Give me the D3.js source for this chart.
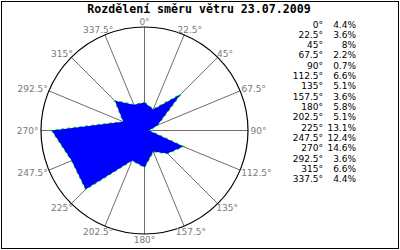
<!DOCTYPE html>
<html><head><meta charset="utf-8">
<script src="https://cdn.jsdelivr.net/npm/d3@7"></script>
<style>body{margin:0;background:#fff}svg{display:block}</style>
</head><body>
<script>
const title = "Rozdělení směru větru 23.07.2009";
const directions = [0, 22.5, 45, 67.5, 90, 112.5, 135, 157.5, 180, 202.5, 225, 247.5, 270, 292.5, 315, 337.5];
const values = [4.4, 3.6, 8, 2.2, 0.7, 6.6, 5.1, 3.6, 5.8, 5.1, 13.1, 12.4, 14.6, 3.6, 6.6, 4.4];
const valueLabels = ["4.4%", "3.6%", "8%", "2.2%", "0.7%", "6.6%", "5.1%", "3.6%", "5.8%", "5.1%", "13.1%", "12.4%", "14.6%", "3.6%", "6.6%", "4.4%"];
const radialMax = 16.3;

const W = 400, H = 250;
const cx = 144.5, cy = 130.5, R = 103.5;
const svg = d3.select("body").append("svg").attr("width", W).attr("height", H);

svg.append("rect").attr("x", 1.5).attr("y", 1.5).attr("width", 397).attr("height", 247)
  .attr("fill", "#fff").attr("stroke", "#000").attr("stroke-width", 1);

svg.append("text").attr("x", 199).attr("y", 12.5).attr("text-anchor", "middle")
  .attr("font-family", "DejaVu Sans Mono").attr("font-weight", "bold").attr("font-size", 11.6)
  .attr("fill", "#000").text(title);

const ang = d3.scaleLinear().domain([0, 360]).range([0, 2 * Math.PI]);
const rad = d3.scaleLinear().domain([0, radialMax]).range([0, R]);
const g = svg.append("g").attr("transform", `translate(${cx},${cy})`);

// spokes
g.selectAll("line.spoke").data(directions).join("line").attr("class", "spoke")
  .attr("x1", 0).attr("y1", 0)
  .attr("x2", d => R * Math.sin(ang(d))).attr("y2", d => -R * Math.cos(ang(d)))
  .attr("stroke", "#6e6e6e").attr("stroke-width", 1);

// outer circle
g.append("circle").attr("r", R).attr("fill", "none").attr("stroke", "#000").attr("stroke-width", 1.2);

// data polygon
const line = d3.lineRadial().angle((d, i) => ang(directions[i])).radius(d => rad(d)).curve(d3.curveLinearClosed);
g.append("path").attr("d", line(values)).attr("fill", "none").attr("stroke", "#00e000")
  .attr("stroke-width", 1.6).attr("stroke-dasharray", "3,3");
g.append("path").attr("d", line(values)).attr("fill", "#0000ff").attr("stroke", "none");

// angle labels
const lab = g.selectAll("text.lab").data(directions).join("text").attr("class", "lab")
  .attr("font-family", "DejaVu Sans").attr("font-size", 9).attr("fill", "#7a7a7a")
  .text(d => d + "°");
lab.each(function(d) {
  const t = d3.select(this);
  const bb = this.getBBox();
  const w = bb.width, h = 6.8;
  const a = ang(d), rr = R + 2.5;
  const px = rr * Math.sin(a), py = -rr * Math.cos(a);
  const ccx = px + Math.sin(a) * w / 2, ccy = py - Math.cos(a) * h / 2;
  t.attr("x", ccx).attr("y", ccy + h / 2).attr("text-anchor", "middle");
});

// legend
const leg = svg.append("g").attr("font-family", "DejaVu Sans").attr("font-size", 9).attr("fill", "#000");
const rowY = d3.scaleLinear().domain([0, 1]).range([27.5, 37.83]);
leg.selectAll("text.ld").data(directions).join("text").attr("class", "ld")
  .attr("x", 323).attr("y", (d, i) => rowY(i)).attr("text-anchor", "end").text(d => d + "°");
leg.selectAll("text.lv").data(valueLabels).join("text").attr("class", "lv")
  .attr("x", 356).attr("y", (d, i) => rowY(i)).attr("text-anchor", "end").text(d => d);
</script>
</body></html>
